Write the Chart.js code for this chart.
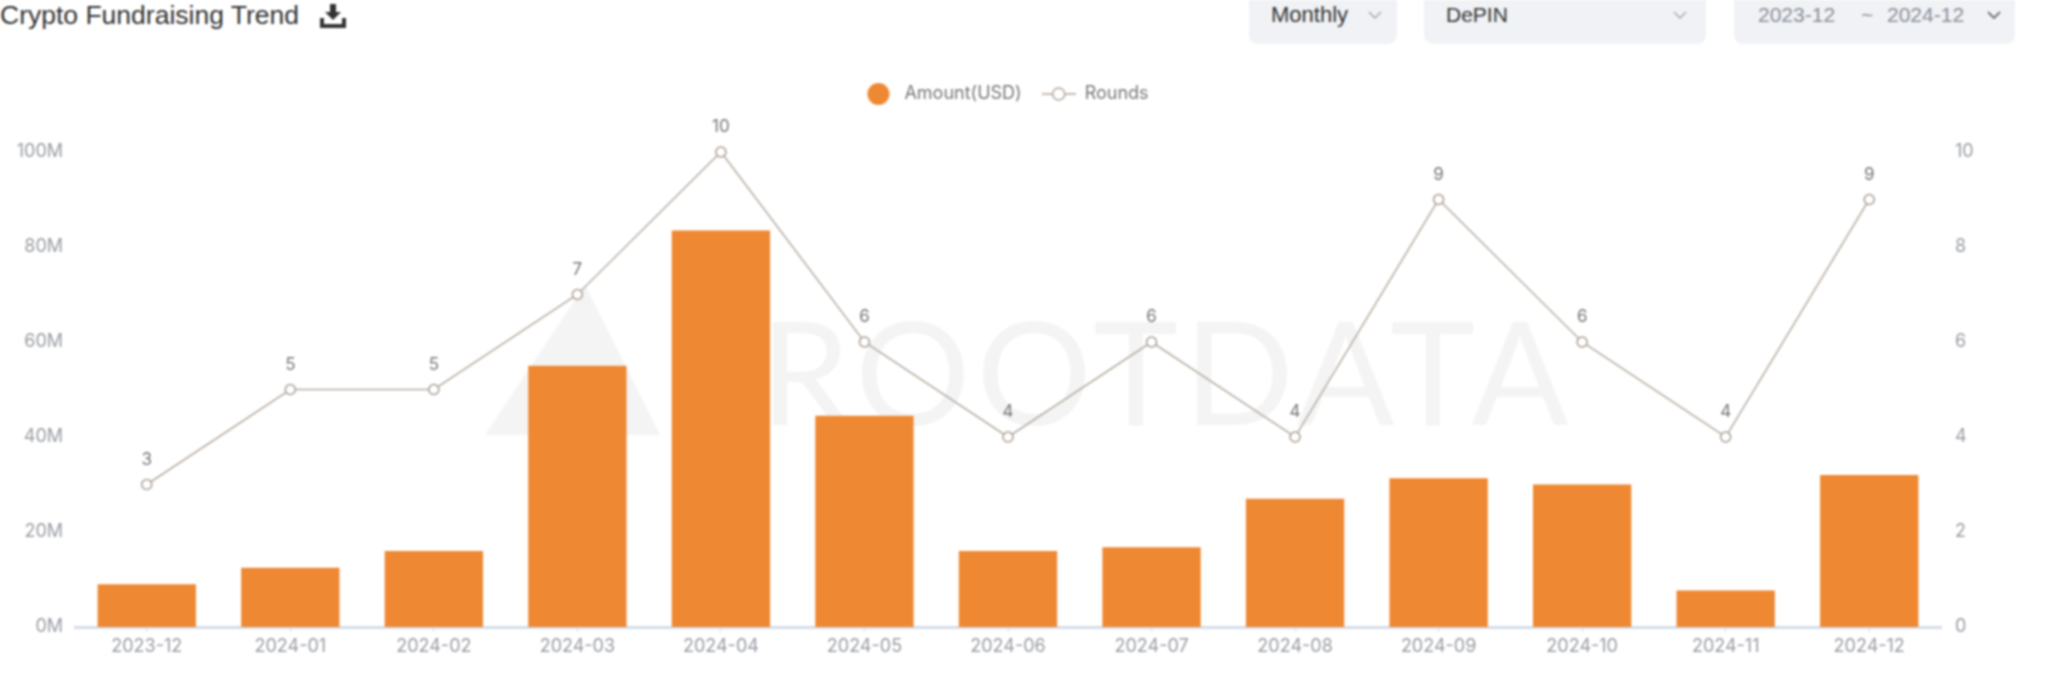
<!DOCTYPE html>
<html>
<head>
<meta charset="utf-8">
<title>Crypto Fundraising Trend</title>
<script src="https://cdn.jsdelivr.net/npm/chart.js@4"></script>
<style>
html, body { margin: 0; padding: 0; background: #fff; overflow: hidden; }
body { width: 2058px; height: 683px; position: relative; font-family: "Liberation Sans", sans-serif; filter: blur(1.1px); }
#chart { position: absolute; left: 0; top: 0; }
.title { position: absolute; left: 0; top: 0; font-size: 26.5px; line-height: 30px; color: #333; }
.dl { position: absolute; left: 319px; top: 3px; }
.box { position: absolute; top: -10px; height: 54px; background: #f0f2f5; border-radius: 9px; }
.txt { position: absolute; top: 0; line-height: 30px; font-size: 21px; white-space: nowrap; }
.chev { position: absolute; top: 11px; }
</style>
</head>
<body>
<div class="title">Crypto Fundraising Trend</div>
<svg class="dl" width="28" height="26" viewBox="0 0 28 26">
	<path d="M11 1h6v8h5l-8 8-8-8h5z" fill="#333"/>
	<path d="M3 15v8h22v-8" fill="none" stroke="#333" stroke-width="4"/>
</svg>
<div class="box" style="left:1249px;width:148px"></div>
<div class="box" style="left:1424px;width:282px"></div>
<div class="box" style="left:1734px;width:281px"></div>
<div class="txt" style="left:1271px;color:#333;font-size:22px">Monthly</div>
<div class="txt" style="left:1446px;color:#333">DePIN</div>
<div class="txt" style="left:1758px;color:#8a8f99">2023-12</div>
<div class="txt" style="left:1861px;color:#8a8f99">~</div>
<div class="txt" style="left:1887px;color:#8a8f99">2024-12</div>
<svg class="chev" style="left:1368px" width="14" height="8"><path d="M1 1l6 6 6-6" fill="none" stroke="#aaa" stroke-width="1.5"/></svg>
<svg class="chev" style="left:1673px" width="14" height="8"><path d="M1 1l6 6 6-6" fill="none" stroke="#aaa" stroke-width="1.5"/></svg>
<svg class="chev" style="left:1987px" width="14" height="8"><path d="M1 1l6 6 6-6" fill="none" stroke="#777" stroke-width="2"/></svg>
<canvas id="chart" width="2058" height="683"></canvas>
<script>
// valores
const categories = ['2023-12', '2024-01', '2024-02', '2024-03', '2024-04', '2024-05', '2024-06', '2024-07', '2024-08', '2024-09', '2024-10', '2024-11', '2024-12'];
const amountUsdM = [9, 12.5, 16, 55, 83.5, 44.5, 16, 16.8, 27, 31.3, 30, 7.7, 32];
const rounds = [3, 5, 5, 7, 10, 6, 4, 6, 4, 9, 6, 4, 9];

const tickColor = '#999ca3';
const tickFont = { family: 'Inter', size: 18 };

// marcadores de la leyenda
function legendIcon(draw) {
	const c = document.createElement('canvas');
	c.width = 34;
	c.height = 24;
	draw(c.getContext('2d'));
	return c;
}
const amountIcon = legendIcon(function (g) {
	g.fillStyle = '#ee8833';
	g.beginPath();
	g.arc(17, 12, 11, 0, Math.PI * 2);
	g.fill();
});
const roundsIcon = legendIcon(function (g) {
	g.strokeStyle = '#b0a59b';
	g.lineWidth = 1.5;
	g.beginPath();
	g.moveTo(0, 12);
	g.lineTo(34, 12);
	g.stroke();
	g.fillStyle = '#fff';
	g.beginPath();
	g.arc(17, 12, 6, 0, Math.PI * 2);
	g.fill();
	g.stroke();
});

// espacio debajo de la leyenda y leyenda algo a la izquierda
const legendGap = {
	id: 'legendGap',
	beforeLayout(chart) {
		const legend = chart.legend;
		if (legend.gapDone) return;
		legend.gapDone = true;
		const fit = legend.fit;
		legend.fit = function () {
			fit.call(this);
			this.height += 39;
		};
	},
	afterLayout(chart) {
		chart.legend.left -= 24;
		chart.legend.right -= 24;
	},
};

// marca de agua detras de las barras
const watermark = {
	id: 'watermark',
	beforeDatasetsDraw(chart) {
		const g = chart.ctx;
		g.save();
		g.fillStyle = '#f4f4f5';
		g.beginPath();
		g.moveTo(585, 285);
		g.lineTo(660, 435);
		g.lineTo(485, 435);
		g.closePath();
		g.fill();
		g.font = '400 144px Lato';
		g.letterSpacing = '6px';
		g.textBaseline = 'alphabetic';
		g.fillText('ROOTDATA', 760, 425);
		g.restore();
	},
};

// numero encima de cada punto de la linea
const pointLabels = {
	id: 'pointLabels',
	afterDatasetsDraw(chart) {
		const g = chart.ctx;
		const meta = chart.getDatasetMeta(0);
		g.save();
		g.font = '17px Inter';
		g.fillStyle = '#777';
		g.textAlign = 'center';
		g.textBaseline = 'middle';
		meta.data.forEach(function (pt, i) {
			g.fillText(rounds[i], pt.x, pt.y - 25);
		});
		g.restore();
	},
};

new Chart(document.getElementById('chart'), {
	data: {
		labels: categories,
		datasets: [
			{
				type: 'line',
				label: 'Rounds',
				data: rounds,
				yAxisID: 'yRounds',
				order: 0,
				borderColor: '#b8aca1',
				borderWidth: 1.5,
				tension: 0,
				clip: false,
				pointRadius: 5,
				pointBackgroundColor: '#fff',
				pointBorderColor: '#a89d93',
				pointBorderWidth: 1.5,
			},
			{
				type: 'bar',
				label: 'Amount(USD)',
				data: amountUsdM,
				yAxisID: 'yAmount',
				order: 1,
				backgroundColor: '#ee8833',
				categoryPercentage: 1,
				barPercentage: 0.685,
			},
		],
	},
	options: {
		responsive: false,
		animation: false,
		events: [],
		layout: { padding: { top: 65 } },
		plugins: {
			tooltip: { enabled: false },
			legend: {
				position: 'top',
				labels: {
					usePointStyle: true,
					pointStyleWidth: 34,
					boxHeight: 24,
					padding: 20,
					color: '#777',
					font: { family: 'Inter', size: 18 },
					generateLabels(chart) {
						return [
							{ text: 'Amount(USD)', pointStyle: amountIcon, fontColor: '#777', datasetIndex: 1, strokeStyle: 'transparent', fillStyle: 'transparent', lineWidth: 0 },
							{ text: 'Rounds', pointStyle: roundsIcon, fontColor: '#777', datasetIndex: 0, strokeStyle: 'transparent', fillStyle: 'transparent', lineWidth: 0 },
						];
					},
				},
			},
		},
		scales: {
			x: {
				afterFit(axis) { axis.height = 56; },
				grid: { offset: false, drawOnChartArea: false, drawTicks: true, tickLength: 5, color: '#d5dde8' },
				border: { color: '#d5dde8', width: 3 },
				ticks: { color: tickColor, font: tickFont, padding: 4, maxRotation: 0, autoSkip: false },
			},
			yAmount: {
				position: 'left',
				min: 0,
				max: 100,
				afterFit(axis) { axis.width = 75; },
				grid: { display: false },
				border: { display: false },
				ticks: { stepSize: 20, color: tickColor, font: tickFont, padding: 4, callback: function (v) { return v + 'M'; } },
			},
			yRounds: {
				position: 'right',
				min: 0,
				max: 10,
				afterFit(axis) { axis.width = 117; },
				grid: { display: false },
				border: { display: false },
				ticks: { stepSize: 2, color: tickColor, font: tickFont, padding: 6 },
			},
		},
	},
	plugins: [legendGap, watermark, pointLabels],
});
</script>
</body>
</html>
